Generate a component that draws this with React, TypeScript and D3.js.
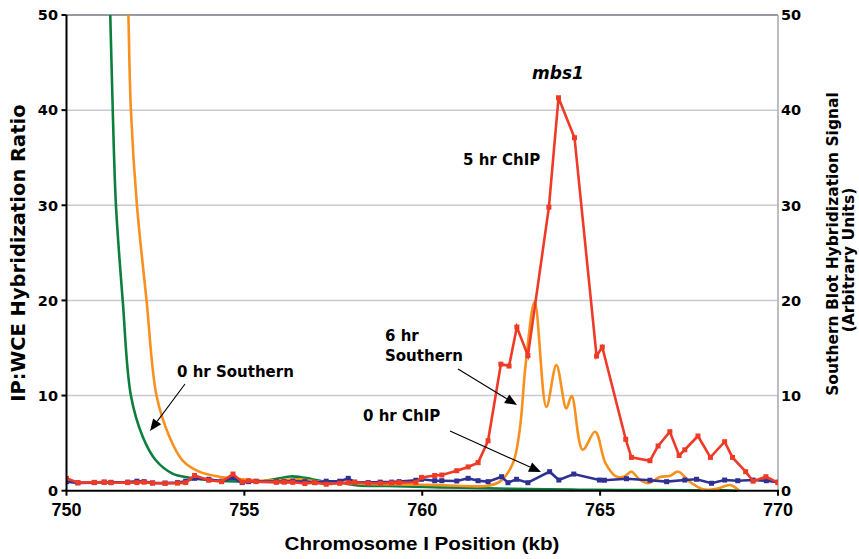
import React from "react";
import * as d3 from "d3";

// ---- Data ----
const chip5Kb = [750.0, 750.32, 750.78, 751.06, 751.25, 751.72, 751.98, 752.18, 752.42, 752.77, 753.12, 753.35, 753.6, 754.0, 754.36, 754.68, 754.94, 755.12, 755.33, 755.9, 756.12, 756.36, 756.7, 756.98, 757.3, 757.68, 757.92, 758.1, 758.48, 758.82, 759.14, 759.35, 759.82, 759.98, 760.35, 760.55, 760.97, 761.29, 761.57, 761.85, 762.21, 762.44, 762.66, 762.97, 763.56, 763.83, 764.28, 764.9, 765.06, 765.72, 765.88, 766.4, 766.63, 766.96, 767.22, 767.38, 767.75, 768.1, 768.5, 768.72, 769.09, 769.3, 769.66, 770.0];
const chip5Val = [1.3, 0.85, 0.88, 0.9, 0.84, 0.85, 0.85, 0.9, 0.8, 0.78, 0.8, 0.85, 1.6, 1.1, 0.95, 1.75, 0.9, 1.05, 0.95, 0.88, 0.9, 0.88, 0.75, 0.85, 0.68, 0.78, 0.85, 0.88, 0.78, 0.78, 0.82, 0.85, 0.88, 1.4, 1.6, 1.65, 2.1, 2.5, 2.95, 5.25, 13.3, 13.1, 17.2, 14.2, 29.8, 41.3, 37.1, 14.15, 15.1, 5.4, 3.5, 3.15, 4.7, 6.2, 3.7, 4.3, 5.75, 3.5, 5.15, 3.5, 2.0, 1.0, 1.47, 0.85];

const chip0Kb = [750.0, 750.32, 750.78, 751.06, 751.25, 751.72, 751.98, 752.18, 752.42, 752.77, 753.12, 753.35, 753.6, 754.0, 754.36, 754.68, 754.94, 755.12, 755.33, 755.9, 756.12, 756.36, 756.7, 756.98, 757.3, 757.68, 757.92, 758.1, 758.48, 758.82, 759.14, 759.35, 759.82, 759.98, 760.35, 760.55, 760.97, 761.29, 761.57, 761.85, 762.23, 762.41, 762.65, 762.97, 763.58, 763.84, 764.26, 764.98, 765.12, 765.74, 766.4, 766.87, 767.38, 767.71, 768.13, 768.5, 768.87, 769.3, 769.67, 770.0];
const chip0Val = [0.95, 0.82, 0.85, 0.9, 0.88, 0.9, 1.0, 0.95, 0.82, 0.8, 0.85, 1.0, 1.3, 1.2, 1.0, 1.35, 0.85, 0.95, 1.0, 0.95, 0.95, 1.0, 0.95, 0.85, 1.0, 1.0, 1.3, 0.9, 0.85, 0.9, 0.9, 0.95, 1.1, 1.2, 1.05, 1.05, 1.02, 1.3, 1.05, 0.95, 1.47, 0.84, 1.2, 0.84, 2.0, 1.12, 1.75, 1.12, 1.1, 1.26, 1.1, 0.95, 1.12, 1.2, 0.78, 1.12, 1.05, 1.12, 1.05, 0.9];

const south0Kb = [751.16, 751.23, 751.3, 751.39, 751.58, 751.81, 752.14, 752.51, 752.98, 753.45, 754.0, 754.5, 755.0, 755.5, 756.0, 756.3, 756.7, 757.2, 757.7, 758.2, 759.0, 759.8, 760.5, 761.5, 762.5, 763.5, 764.5, 765.5, 766.5, 767.5, 768.5, 768.85];
const south0Val = [60, 50, 40, 30, 20, 10, 5.7, 3.2, 1.8, 1.37, 1.12, 1.0, 0.95, 1.0, 1.3, 1.5, 1.35, 1.0, 0.85, 0.55, 0.5, 0.42, 0.35, 0.28, 0.2, 0.15, 0.1, 0.08, 0.06, 0.05, 0.03, 0.0];

const south6Kb = [751.66, 751.74, 751.81, 751.98, 752.25, 752.53, 752.89, 753.26, 753.73, 754.29, 754.94, 755.5, 756.0, 756.5, 757.0, 757.9, 758.8, 759.95, 760.8, 761.8, 762.18, 762.55, 762.74, 762.91, 763.16, 763.49, 763.77, 764.05, 764.2, 764.51, 764.86, 765.15, 765.45, 765.68, 765.88, 766.1, 766.35, 766.68, 766.95, 767.2, 767.5, 767.9, 768.3, 768.65, 768.9];
const south6Val = [62, 50, 40, 30, 20, 10, 5.7, 3.2, 2.0, 1.47, 1.2, 1.05, 1.1, 1.2, 1.0, 0.78, 0.68, 0.62, 0.55, 0.5, 0.95, 2.9, 6.4, 13.4, 19.85, 8.8, 13.2, 8.65, 9.95, 4.3, 6.2, 2.9, 1.5, 1.5, 2.0, 1.2, 0.78, 1.45, 1.55, 2.0, 1.0, 0.15, 0.22, 0.6, 0.05];

const xTicks = [750, 755, 760, 765, 770];
const yTicks = [0, 10, 20, 30, 40, 50];

const W = 859, H = 559;
const M = { left: 66.5, right: 778, top: 15, bottom: 490.7 };

const RED = "#EE3A26";
const ORANGE = "#F7901E";
const GREEN = "#0C7F3E";
const NAVY = "#2E3192";
const FONT = "'DejaVu Sans', Verdana, sans-serif";
const XFONT = "'Liberation Sans', Arial, sans-serif";

export default function App() {
  const x = d3.scaleLinear().domain([750, 770]).range([M.left, M.right]);
  const yL = d3.scaleLinear().domain([0, 50]).range([M.bottom, M.top]);
  const yR = d3.scaleLinear().domain([0, 50]).range([M.bottom, M.top]);

  const lin = d3.line<[number, number]>().x(d => x(d[0])).y(d => yL(d[1]));
  const smooth = d3.line<[number, number]>().x(d => x(d[0])).y(d => yR(d[1])).curve(d3.curveCatmullRom.alpha(0.5));

  const red = chip5Kb.map((k, i) => [k, chip5Val[i]] as [number, number]);
  const blue = chip0Kb.map((k, i) => [k, chip0Val[i]] as [number, number]);
  const green = south0Kb.map((k, i) => [k, south0Val[i]] as [number, number]);
  const orange = south6Kb.map((k, i) => [k, south6Val[i]] as [number, number]);

  const arrow = (x1: number, y1: number, x2: number, y2: number, key: string) => {
    const ang = Math.atan2(y2 - y1, x2 - x1);
    const L = 12, Wd = 5;
    const bx = x2 - L * Math.cos(ang), by = y2 - L * Math.sin(ang);
    const px = -Math.sin(ang) * Wd, py = Math.cos(ang) * Wd;
    return (
      <g key={key}>
        <line x1={x1} y1={y1} x2={bx} y2={by} stroke="#000" strokeWidth={1.1} />
        <polygon points={`${x2},${y2} ${bx + px},${by + py} ${bx - px},${by - py}`} fill="#000" />
      </g>
    );
  };

  return (
    <div style={{ position: "absolute", left: 0, top: 0 }}>
      <svg width={W} height={H} style={{ display: "block", background: "#fff" }}>
        <defs>
          <clipPath id="plot">
            <rect x={M.left} y={M.top} width={M.right - M.left} height={M.bottom - M.top + 3} />
          </clipPath>
        </defs>
        {/* gridlines */}
        {yTicks.filter(t => t > 0 && t < 50).map(t => (
          <line key={t} x1={M.left} x2={M.right} y1={yL(t)} y2={yL(t)} stroke="#C8C9D1" strokeWidth={1.5} />
        ))}
        <line x1={M.left} x2={M.right} y1={yL(50)} y2={yL(50)} stroke="#9A98A2" strokeWidth={2} />
        <line x1={M.right} x2={M.right} y1={M.top} y2={M.bottom} stroke="#A7A7AE" strokeWidth={1.5} />

        <g clipPath="url(#plot)">
          <path d={smooth(green) || ""} fill="none" stroke={GREEN} strokeWidth={2.6} />
          <path d={smooth(orange) || ""} fill="none" stroke={ORANGE} strokeWidth={2.6} />
          <path d={lin(blue) || ""} fill="none" stroke={NAVY} strokeWidth={2.6} />
          {blue.map((d, i) => (
            <rect key={"b" + i} x={x(d[0]) - 2.5} y={yL(d[1]) - 2.5} width={5} height={5} fill={NAVY} />
          ))}
          <path d={lin(red) || ""} fill="none" stroke={RED} strokeWidth={2.6} />
          {red.map((d, i) => (
            <rect key={"r" + i} x={x(d[0]) - 2.5} y={yL(d[1]) - 2.5} width={5} height={5} fill={RED} />
          ))}
        </g>

        {/* left axis */}
        <line x1={M.left} x2={M.left} y1={M.top} y2={M.bottom} stroke="#000" strokeWidth={2} />
        {yTicks.map(t => (
          <g key={"yl" + t}>
            <line x1={M.left - 5} x2={M.left} y1={yL(t)} y2={yL(t)} stroke="#000" strokeWidth={2} />
            <text x={58} y={yL(t)} dy="0.36em" textAnchor="end" fontFamily={FONT} fontWeight="bold" fontSize={14.5}>{t}</text>
          </g>
        ))}
        {yTicks.map(t => (
          <text key={"yr" + t} x={781} y={yR(t)} dy="0.36em" textAnchor="start" fontFamily={FONT} fontWeight="bold" fontSize={14.5}>{t}</text>
        ))}
        {/* bottom axis */}
        <line x1={M.left - 1} x2={M.right + 1} y1={M.bottom} y2={M.bottom} stroke="#000" strokeWidth={2} />
        {xTicks.map(t => (
          <g key={"xt" + t}>
            <line x1={x(t)} x2={x(t)} y1={M.bottom} y2={M.bottom + 5} stroke="#000" strokeWidth={2} />
            <text x={x(t)} y={516} textAnchor="middle" fontFamily={XFONT} fontWeight="bold" fontSize={18}>{t}</text>
          </g>
        ))}
        <text x={422} y={550} textAnchor="middle" fontFamily={XFONT} fontWeight="bold" fontSize={19} textLength={275} lengthAdjust="spacingAndGlyphs">Chromosome I Position (kb)</text>

        <text transform="translate(25,253) rotate(-90)" textAnchor="middle" fontFamily={FONT} fontWeight="bold" fontSize={19.5}>IP:WCE Hybridization Ratio</text>
        <text transform="translate(838,244) rotate(-90)" textAnchor="middle" fontFamily={FONT} fontWeight="bold" fontSize={15.5}>Southern Blot Hybridization Signal</text>
        <text transform="translate(854,260) rotate(-90)" textAnchor="middle" fontFamily={FONT} fontWeight="bold" fontSize={15.5}>(Arbitrary Units)</text>

        {/* annotations */}
        <text x={558} y={79} textAnchor="middle" fontFamily={FONT} fontWeight="bold" fontStyle="italic" fontSize={17}>mbs1</text>
        <text x={463} y={165} fontFamily={FONT} fontWeight="bold" fontSize={15}>5 hr ChIP</text>
        <text x={385} y={341} fontFamily={FONT} fontWeight="bold" fontSize={15}>6 hr</text>
        <text x={385} y={361} fontFamily={FONT} fontWeight="bold" fontSize={15}>Southern</text>
        <text x={363} y={421} fontFamily={FONT} fontWeight="bold" fontSize={15}>0 hr ChIP</text>
        <text x={177} y={377} fontFamily={FONT} fontWeight="bold" fontSize={15}>0 hr Southern</text>
        {arrow(458, 369, 517, 405, "a1")}
        {arrow(450, 431, 541, 472, "a2")}
        {arrow(185, 384, 150, 431, "a3")}
      </svg>
    </div>
  );
}
